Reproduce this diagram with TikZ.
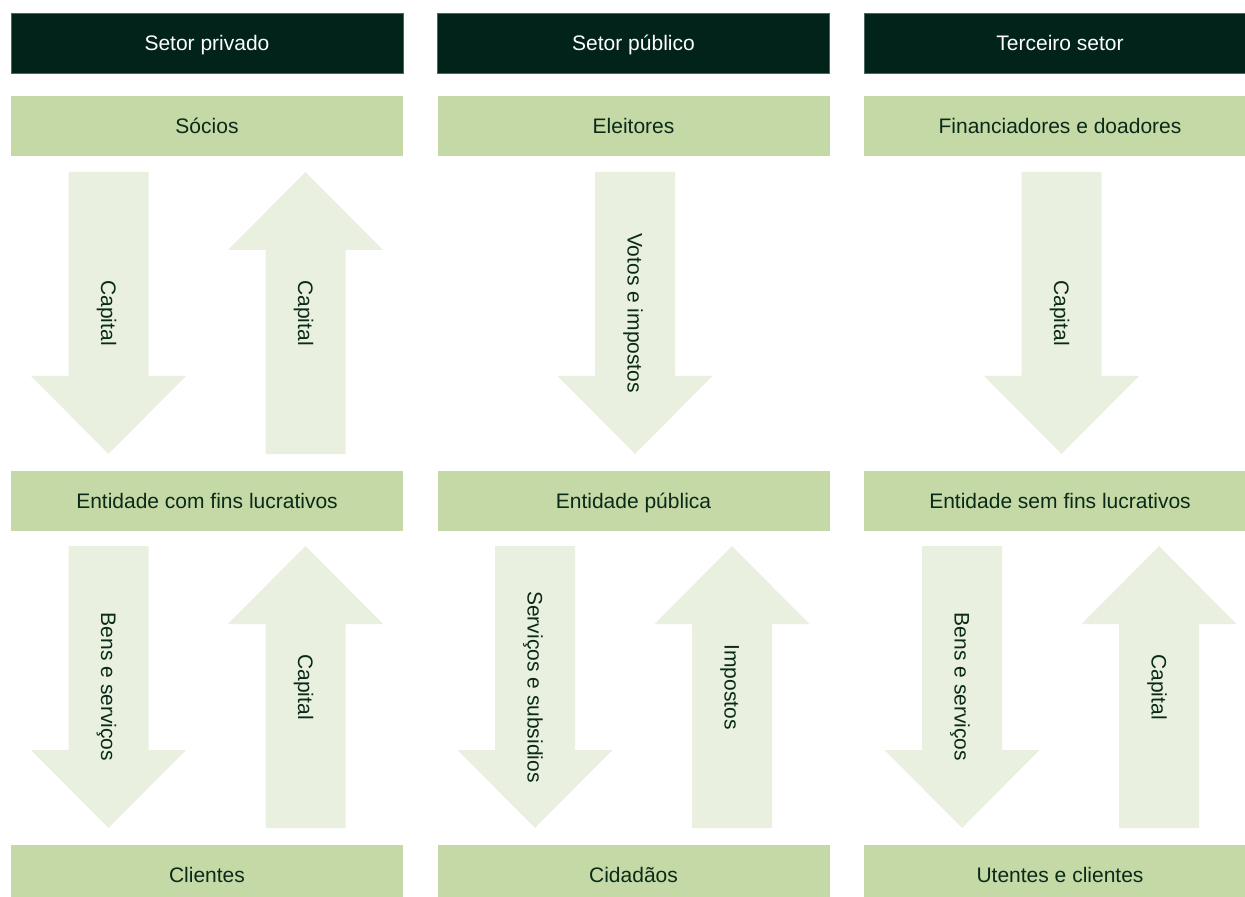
\documentclass[tikz,border=0pt]{standalone}
\usepackage{fontspec}
\setmainfont{Liberation Sans}
\definecolor{headgreen}{HTML}{02231A}
\definecolor{boxgreen}{HTML}{C5D9A7}
\definecolor{flowgreen}{HTML}{E9F0E0}
\definecolor{inkgreen}{HTML}{0A2A18}
\tikzset{
  head/.style={fill=headgreen, draw=headgreen!70!white, line width=0.4pt, text=white,
    minimum width=196pt, minimum height=30pt, inner sep=0pt, text height=7.5pt, text depth=0pt},
  party/.style={fill=boxgreen, text=inkgreen, minimum width=196pt, minimum height=30pt,
    inner sep=0pt, text height=7.5pt, text depth=0pt},
  flowtext/.style={text=inkgreen, rotate=-90, inner sep=0pt, text height=7.5pt, text depth=0pt},
}
% broad arrows: name, x of the axis, y of the top, label
\newcommand{\flowdown}[4]{%
  \fill[flowgreen] (#2-40,#3) -- (#2+40,#3) -- (#2+40,#3+204) -- (#2+77.5,#3+204)
    -- (#2,#3+282) -- (#2-77.5,#3+204) -- (#2-40,#3+204) -- cycle;
  \node[flowtext] (#1) at (#2,#3+141) {#4};}
\newcommand{\flowup}[4]{%
  \fill[flowgreen] (#2-40,#3+282) -- (#2+40,#3+282) -- (#2+40,#3+78) -- (#2+77.5,#3+78)
    -- (#2,#3) -- (#2-77.5,#3+78) -- (#2-40,#3+78) -- cycle;
  \node[flowtext] (#1) at (#2,#3+141) {#4};}

\begin{document}
\begin{tikzpicture}[x=0.5pt,y=-0.5pt,font=\fontsize{10.5}{12}\selectfont]
\useasboundingbox (0,0) rectangle (1245,897);

% setor privado
\node[head] (privado) at (207,43) {Setor privado};
\node[party] (socios) at (207,126) {Sócios};
\node[party] (lucro) at (207,500.5) {Entidade com fins lucrativos};
\node[party] (clientes) at (207,875) {Clientes};
\flowdown{capa}{108.5}{172}{Capital}
\flowup{capb}{305.5}{172}{Capital}
\flowdown{bens}{108.5}{546}{Bens e serviços}
\flowup{capc}{305.5}{546}{Capital}

% setor publico
\node[head] (publico) at (633.5,43) {Setor público};
\node[party] (eleitores) at (633.5,126) {Eleitores};
\node[party] (entpub) at (633.5,500.5) {Entidade pública};
\node[party] (cidadaos) at (633.5,875) {Cidadãos};
\flowdown{votos}{635}{172}{Votos e impostos}
\flowdown{servicos}{535}{546}{Serviços e subsidios}
\flowup{impostos}{732}{546}{Impostos}

% terceiro setor
\node[head] (terceiro) at (1060,43) {Terceiro setor};
\node[party] (doadores) at (1060,126) {Financiadores e doadores};
\node[party] (semfins) at (1060,500.5) {Entidade sem fins lucrativos};
\node[party] (utentes) at (1060,875) {Utentes e clientes};
\flowdown{capd}{1061.5}{172}{Capital}
\flowdown{bensb}{962}{546}{Bens e serviços}
\flowup{cape}{1159}{546}{Capital}
\end{tikzpicture}
\end{document}
